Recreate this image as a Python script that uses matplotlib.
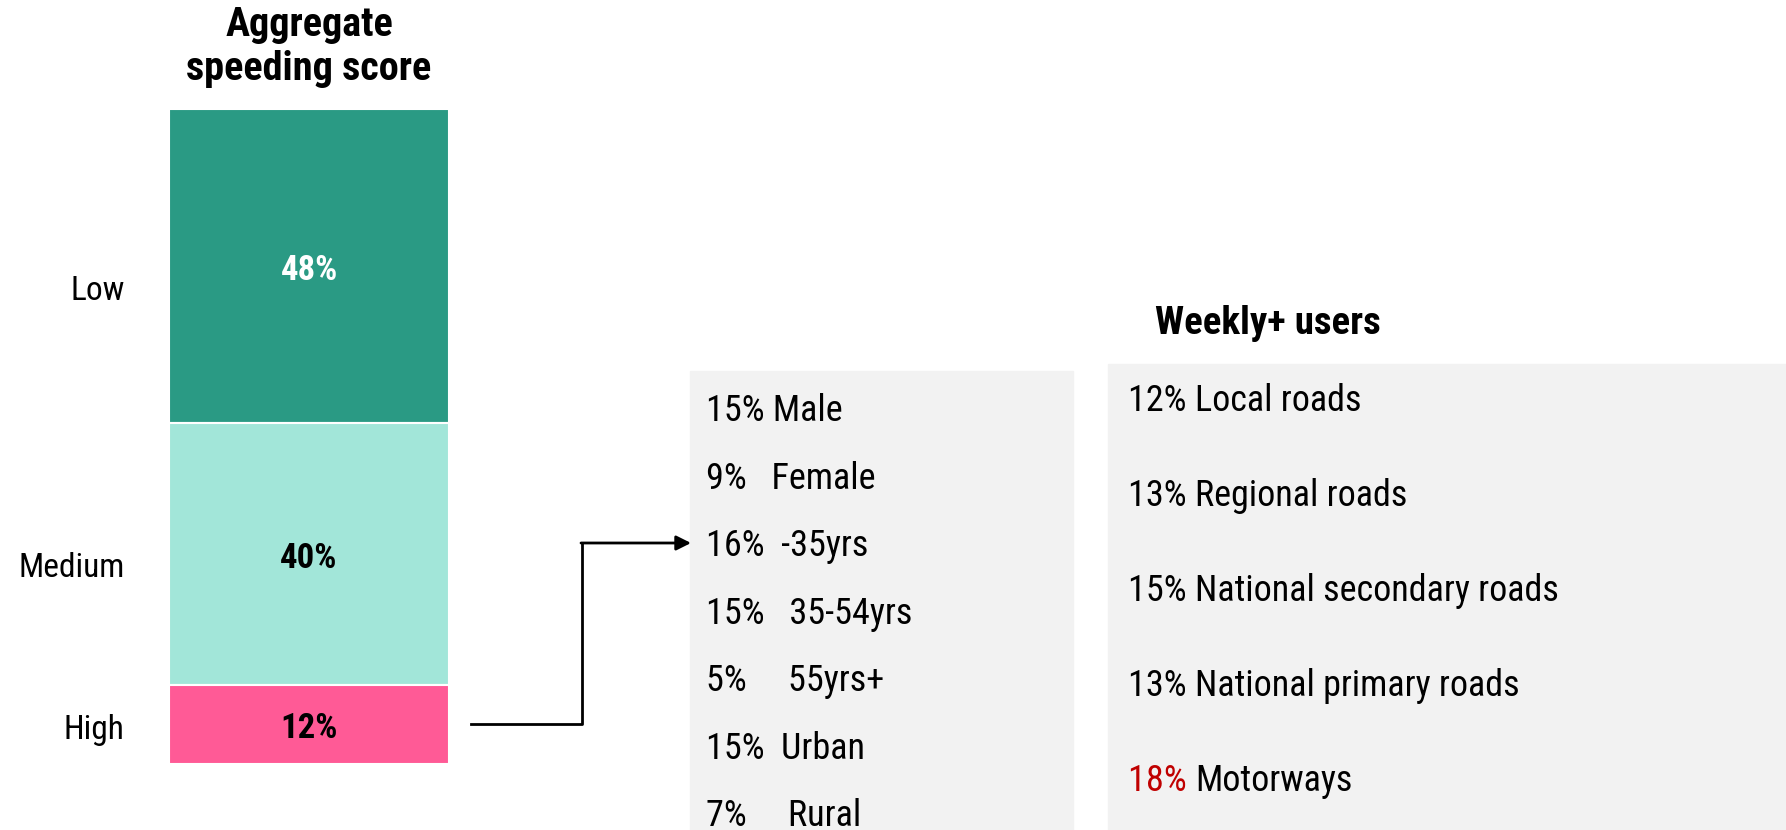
import matplotlib
matplotlib.use("Agg")
import matplotlib.pyplot as plt
from matplotlib import font_manager
from matplotlib.patches import Rectangle

# pick a condensed-ish family if one is installed
names = set(f.name for f in font_manager.fontManager.ttflist)
family = "Roboto"
for cand in ["Roboto Condensed", "Liberation Sans Narrow", "Roboto"]:
    if cand in names:
        family = cand
        break
plt.rcParams["font.family"] = [family, "DejaVu Sans"]

# data
levels = ["Low", "Medium", "High"]
shares = [48, 40, 12]
level_colors = ["#2A9A84", "#A2E6D9", "#FF5A96"]
label_colors = ["white", "black", "black"]

profile_items = ["15% Male", "9%   Female", "16%  -35yrs", "15%   35-54yrs",
                 "5%     55yrs+", "15%  Urban", "7%     Rural"]

road_pcts = [12, 13, 15, 13, 18]
road_types = ["Local roads", "Regional roads", "National secondary roads",
              "National primary roads", "Motorways"]
highlight = "Motorways"

W, H = 1786, 830
fig = plt.figure(figsize=(W / 100, H / 100), dpi=100)

# overlay axes in pixel coords for boxes, text and the connector
ov = fig.add_axes([0, 0, 1, 1])
ov.set_xlim(0, W)
ov.set_ylim(H, 0)
ov.axis("off")

# stacked bar
bx0, by0, bx1, by1 = 169, 109, 449, 764
ax = fig.add_axes([bx0 / W, 1 - by1 / H, (bx1 - bx0) / W, (by1 - by0) / H])
bottom = 0
centers = []
for name, val, col, lc in zip(levels, shares, level_colors, label_colors):
    ax.bar(0, val, bottom=bottom, width=1, color=col, edgecolor="white", linewidth=1.5)
    c = bottom + val / 2
    centers.append(c)
    ax.text(0, c + 0.6, f"{val}%", ha="center", va="center", fontsize=25,
            fontweight="bold", color=lc)
    bottom += val
ax.set_xlim(-0.5, 0.5)
ax.set_ylim(100, 0)
ax.set_xticks([])
# category labels sit a little below the segment middles
nudge = [3.2, 1.5, 0.2]
ax.set_yticks([c + n for c, n in zip(centers, nudge)])
ax.set_yticklabels(levels, fontsize=24)
ax.tick_params(axis="y", length=0, pad=32)
for s in ax.spines.values():
    s.set_visible(False)

ov.text((bx0 + bx1) / 2, 47, "Aggregate\nspeeding score", ha="center", va="center",
        fontsize=29, fontweight="bold", linespacing=1.2)

# connector from High to the profile box
ov.plot([471, 582, 582], [724, 724, 543], color="black", lw=2)
ov.annotate("", xy=(691, 543), xytext=(581, 543),
            arrowprops=dict(arrowstyle="-|>", color="black", lw=2,
                            mutation_scale=22, shrinkA=0, shrinkB=0))

# profile box
ov.add_patch(Rectangle((690, 371), 383, H - 371, color="#F2F2F2", zorder=0))
for i, item in enumerate(profile_items):
    ov.text(706, 411 + i * 67.5, item, ha="left", va="center", fontsize=26)

# road type box
ov.text(1268, 323, "Weekly+ users", ha="center", va="center",
        fontsize=28, fontweight="bold")
ov.add_patch(Rectangle((1108, 364), W - 1108, H - 364, color="#F2F2F2", zorder=0))
for i, (p, r) in enumerate(zip(road_pcts, road_types)):
    y = 401 + i * 95
    pc = "#C00000" if r == highlight else "black"
    t = ov.text(1128, y, f"{p}% ", ha="left", va="center", fontsize=26, color=pc)
    ov.annotate(r, xycoords=t, xy=(1, 0.5), va="center", ha="left", fontsize=26)

fig.savefig("out.png", dpi=100)
